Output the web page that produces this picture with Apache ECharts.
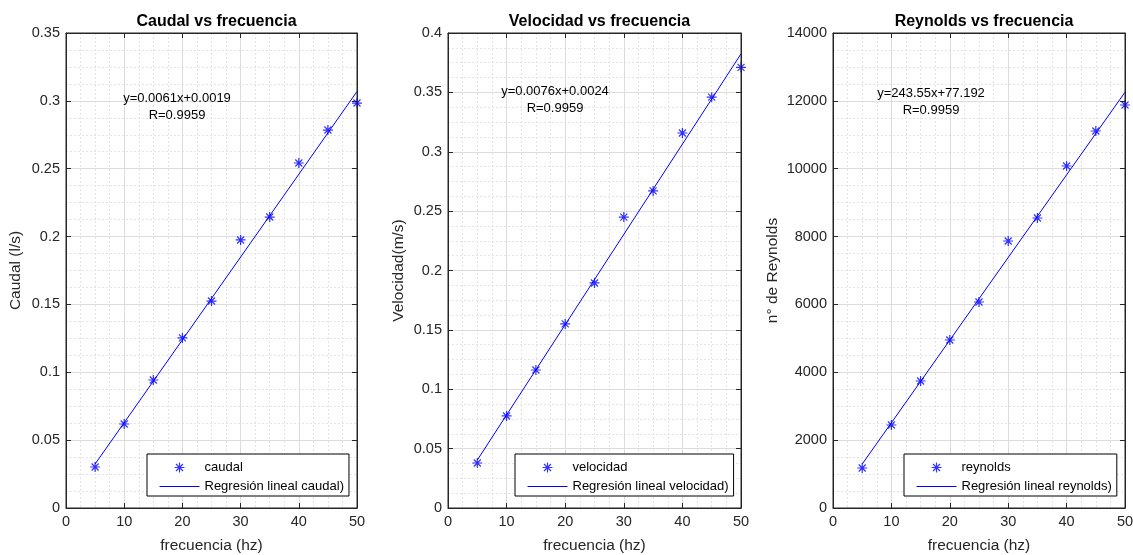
<!DOCTYPE html>
<html>
<head>
<meta charset="utf-8">
<script src="https://cdn.jsdelivr.net/npm/echarts@6/dist/echarts.min.js"></script>
<style>
html,body{margin:0;padding:0;background:#fff;}
#c{width:1133px;height:555px;}
</style>
</head>
<body>
<div id="c"></div>
<script>
// ---- data ----
const frecuencia = [5, 10, 15, 20, 25, 30, 35, 40, 45, 50];
const caudal = [0.0302, 0.0619, 0.0943, 0.1253, 0.1525, 0.1975, 0.2144, 0.2542, 0.2785, 0.2984];
const velocidad = [0.0379, 0.0775, 0.1162, 0.1550, 0.1895, 0.2450, 0.2670, 0.3158, 0.3460, 0.3710];
const reynolds = [1179, 2446, 3743, 4951, 6072, 7869, 8547, 10080, 11111, 11878];
// regression lines (endpoints at x=5 and x=50)
const fitX = [5, 50];
const fitCaudal = [0.0324, 0.3069];
const fitVelocidad = [0.0404, 0.3824];
const fitReynolds = [1295, 12255];
const titles = ['Caudal vs frecuencia', 'Velocidad vs frecuencia', 'Reynolds vs frecuencia'];
const yNames = ['Caudal (l/s)', 'Velocidad(m/s)', 'n° de Reynolds'];
const seriesNames = ['caudal', 'velocidad', 'reynolds'];
const fitNames = ['Regresión lineal caudal)', 'Regresión lineal velocidad)', 'Regresión lineal reynolds)'];
const eqTexts = ['y=0.0061x+0.0019', 'y=0.0076x+0.0024', 'y=243.55x+77.192'];
const rTexts = ['R=0.9959', 'R=0.9959', 'R=0.9959'];
const yMax = [0.35, 0.4, 14000];
const yInterval = [0.05, 0.05, 2000];
const xTicks = {min: 0, max: 50, interval: 10};

// ---- layout ----
const panels = [
  {left: 66, width: 291, nameGap: 42, legendLeft: 147, eqX: 177, eqY: 100},
  {left: 448, width: 293, nameGap: 41, legendLeft: 515, eqX: 555, eqY: 93},
  {left: 833, width: 292, nameGap: 52, legendLeft: 904, eqX: 931, eqY: 95}
];
const TOP = 33, H = 475;
const FONT = '"Liberation Sans", Arial, Helvetica, sans-serif';
const AX = '#262626';
const GRID = '#dcdcdc';
const MINOR = '#e4e4e4';
const BLUE = '#0000ff';
const STAR = 'path://M5,0L5,10M0,5L10,5M1.5,1.5L8.5,8.5M1.5,8.5L8.5,1.5';
const LINE_ICON = 'path://M0,0L0,0M0,5L40,5M40,10L40,10';

const yData = [caudal, velocidad, reynolds];
const fitData = [fitCaudal, fitVelocidad, fitReynolds];

const grid = [], xAxis = [], yAxis = [], series = [], legend = [], title = [], graphic = [];
panels.forEach((p, i) => {
  grid.push({left: p.left, top: TOP, width: p.width, height: H, containLabel: false,
    outerBoundsMode: 'none',
    show: true, borderColor: AX, borderWidth: 1, backgroundColor: 'transparent', z: 5});
  title.push({
    text: titles[i], left: p.left + p.width / 2, top: 9, textAlign: 'center',
    textStyle: {fontFamily: FONT, fontSize: 16, fontWeight: 'bold', color: '#000'}
  });
  const fmt = v => (i === 2 ? String(v) : String(+v.toFixed(4)));
  xAxis.push({
    gridIndex: i, type: 'value', min: xTicks.min, max: xTicks.max, interval: xTicks.interval,
    name: 'frecuencia (hz)', nameLocation: 'middle', nameGap: 30,
    nameTextStyle: {fontFamily: FONT, fontSize: 15.5, color: AX},
    axisLine: {onZero: false, lineStyle: {color: AX, width: 1}},
    axisTick: {inside: true, length: 5, lineStyle: {color: AX}},
    axisLabel: {fontFamily: FONT, fontSize: 14.5, color: AX, margin: 6},
    splitLine: {show: true, lineStyle: {color: GRID, width: 1}},
    minorTick: {show: false, splitNumber: 4},
    minorSplitLine: {show: true, lineStyle: {color: MINOR, type: [2, 2], width: 1}}
  });
  xAxis.push({
    gridIndex: i, type: 'value', position: 'top', min: xTicks.min, max: xTicks.max, interval: xTicks.interval,
    axisLine: {show: true, onZero: false, lineStyle: {color: AX, width: 1}},
    axisTick: {show: true, inside: true, length: 5, lineStyle: {color: AX}},
    axisLabel: {show: false}, splitLine: {show: false}
  });
  yAxis.push({
    gridIndex: i, type: 'value', min: 0, max: yMax[i], interval: yInterval[i],
    name: yNames[i], nameLocation: 'middle', nameGap: p.nameGap,
    nameTextStyle: {fontFamily: FONT, fontSize: 15.5, color: AX},
    axisLine: {show: true, onZero: false, lineStyle: {color: AX, width: 1}},
    axisTick: {show: true, inside: true, length: 5, lineStyle: {color: AX}},
    axisLabel: {fontFamily: FONT, fontSize: 14.5, color: AX, margin: 6, formatter: fmt},
    splitLine: {show: true, lineStyle: {color: GRID, width: 1}},
    minorTick: {show: false, splitNumber: 4},
    minorSplitLine: {show: true, lineStyle: {color: MINOR, type: [2, 2], width: 1}}
  });
  yAxis.push({
    gridIndex: i, type: 'value', position: 'right', min: 0, max: yMax[i], interval: yInterval[i],
    axisLine: {show: true, onZero: false, lineStyle: {color: AX, width: 1}},
    axisTick: {show: true, inside: true, length: 5, lineStyle: {color: AX}},
    axisLabel: {show: false}, splitLine: {show: false}
  });
  series.push({
    name: seriesNames[i], type: 'scatter', xAxisIndex: 2 * i, yAxisIndex: 2 * i,
    symbol: STAR, symbolSize: 10,
    itemStyle: {color: 'none', borderColor: BLUE, borderWidth: 1.2},
    data: frecuencia.map((x, k) => [x, yData[i][k]]), z: 3
  });
  series.push({
    name: fitNames[i], type: 'line', xAxisIndex: 2 * i, yAxisIndex: 2 * i,
    symbol: 'none', showSymbol: false, lineStyle: {color: BLUE, width: 1}, itemStyle: {color: BLUE},
    data: fitX.map((x, k) => [x, fitData[i][k]]), z: 2
  });
  legend.push({
    data: [
      {name: seriesNames[i], icon: STAR, itemStyle: {color: 'none', borderColor: BLUE, borderWidth: 1.2}},
      {name: fitNames[i], icon: LINE_ICON, itemStyle: {color: 'none', borderColor: BLUE, borderWidth: 1}}
    ],
    orient: 'vertical', left: p.legendLeft, top: 454,
    itemWidth: 40, itemHeight: 10, itemGap: 4,
    padding: [6, 5, 2, 10],
    backgroundColor: '#fff', borderColor: '#000', borderWidth: 1,
    textStyle: {fontFamily: FONT, fontSize: 13, color: '#000'},
    selectedMode: false, z: 10
  });
  graphic.push({
    type: 'text', z: 10, x: p.eqX, y: p.eqY - 8,
    style: {text: eqTexts[i], font: '13px ' + FONT, fill: '#000', align: 'center', verticalAlign: 'top'}
  });
  graphic.push({
    type: 'text', z: 10, x: p.eqX, y: p.eqY + 9,
    style: {text: rTexts[i], font: '13px ' + FONT, fill: '#000', align: 'center', verticalAlign: 'top'}
  });
});

const chart = echarts.init(document.getElementById('c'), null, {renderer: 'canvas'});
chart.setOption({
  animation: false, backgroundColor: '#fff',
  title, grid, xAxis, yAxis, series, legend, graphic
});
</script>
</body>
</html>
